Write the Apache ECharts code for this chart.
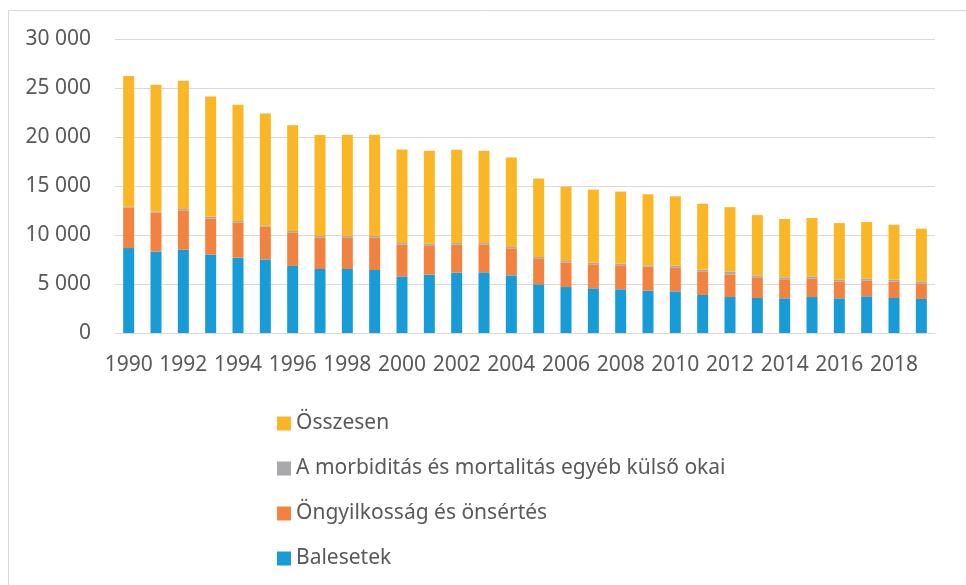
<!DOCTYPE html>
<html>
<head>
<meta charset="utf-8">
<script src="https://cdn.jsdelivr.net/npm/echarts@6/dist/echarts.min.js"></script>
<style>
  html, body { margin: 0; padding: 0; background: #fff; }
  #chart { width: 966px; height: 585px; }
</style>
</head>
<body>
<div id="chart"></div>
<script>
// évek
var years = ['1990', '1991', '1992', '1993', '1994', '1995', '1996', '1997', '1998', '1999',
    '2000', '2001', '2002', '2003', '2004', '2005', '2006', '2007', '2008', '2009',
    '2010', '2011', '2012', '2013', '2014', '2015', '2016', '2017', '2018', '2019'];
// Balesetek
var balesetek = [8670, 8300, 8500, 7990, 7680, 7510, 6840, 6530, 6530, 6430,
    5780, 5950, 6160, 6190, 5880, 4970, 4690, 4560, 4460, 4320,
    4250, 3880, 3670, 3570, 3540, 3670, 3540, 3740, 3570, 3470];
// Öngyilkosság és önsértés
var ongyilkossag = [4150, 4010, 4010, 3700, 3600, 3370, 3430, 3230, 3230, 3330,
    3230, 2990, 2850, 2850, 2750, 2650, 2510, 2450, 2450, 2450,
    2450, 2410, 2310, 2110, 1940, 1870, 1730, 1630, 1700, 1600];
// egyéb külső okok
var egyeb = [100, 100, 140, 170, 150, 100, 140, 140, 170, 170,
    170, 170, 170, 140, 140, 140, 140, 170, 170, 140,
    170, 170, 300, 200, 200, 240, 200, 200, 170, 200];
// Összesen
var osszesen = [13300, 12925, 13090, 12280, 11870, 11430, 10780, 10300, 10300, 10300,
    9550, 9490, 9520, 9420, 9150, 8000, 7590, 7450, 7350, 7250,
    7080, 6730, 6560, 6150, 5950, 5950, 5750, 5750, 5610, 5370];

var names = ['Balesetek', 'Öngyilkosság és önsértés', 'A morbiditás és mortalitás egyéb külső okai', 'Összesen'];
var colors = ['#179cd8', '#f2823f', '#a8a9ad', '#fbb625'];
var textColor = '#595959';
var fontName = 'Noto Sans';

function fmt(v) {
    return String(v).replace(/\B(?=(\d{3})+(?!\d))/g, ' ');
}

var myChart = echarts.init(document.getElementById('chart'));

function bar(name, data, color) {
    return {
        name: name,
        type: 'bar',
        stack: 'total',
        barWidth: 11,
        data: data,
        itemStyle: { color: color }
    };
}

var option = {
    animation: false,
    backgroundColor: '#fff',
    color: colors,
    textStyle: { fontFamily: fontName },
    graphic: [{
        type: 'rect',
        shape: { x: 8.5, y: 10.5, width: 1000, height: 1000 },
        style: { fill: 'none', stroke: '#d9d9d9', lineWidth: 1 },
        silent: true
    }],
    grid: {
        left: 115,
        right: 31,
        top: 39,
        height: 294
    },
    legend: {
        orient: 'vertical',
        left: 272,
        top: 408,
        itemWidth: 14,
        itemHeight: 14,
        itemGap: 24,
        icon: 'rect',
        data: ['Összesen', 'A morbiditás és mortalitás egyéb külső okai', 'Öngyilkosság és önsértés', 'Balesetek'],
        textStyle: {
            color: textColor,
            fontSize: 21,
            lineHeight: 21,
            fontFamily: fontName
        }
    },
    xAxis: {
        type: 'category',
        data: years,
        axisLine: { lineStyle: { color: '#d9d9d9', width: 1 } },
        axisTick: { show: false },
        axisLabel: {
            interval: 1,
            color: textColor,
            fontSize: 21,
            margin: 22,
            fontFamily: fontName
        }
    },
    yAxis: {
        type: 'value',
        min: 0,
        max: 30000,
        interval: 5000,
        axisLine: { show: false },
        axisTick: { show: false },
        splitLine: { lineStyle: { color: '#d9d9d9', width: 1 } },
        axisLabel: {
            color: textColor,
            fontSize: 21,
            margin: 24,
            fontFamily: fontName,
            formatter: fmt
        }
    },
    series: [
        bar(names[0], balesetek, colors[0]),
        bar(names[1], ongyilkossag, colors[1]),
        bar(names[2], egyeb, colors[2]),
        bar(names[3], osszesen, colors[3])
    ]
};

myChart.setOption(option);
</script>
</body>
</html>
